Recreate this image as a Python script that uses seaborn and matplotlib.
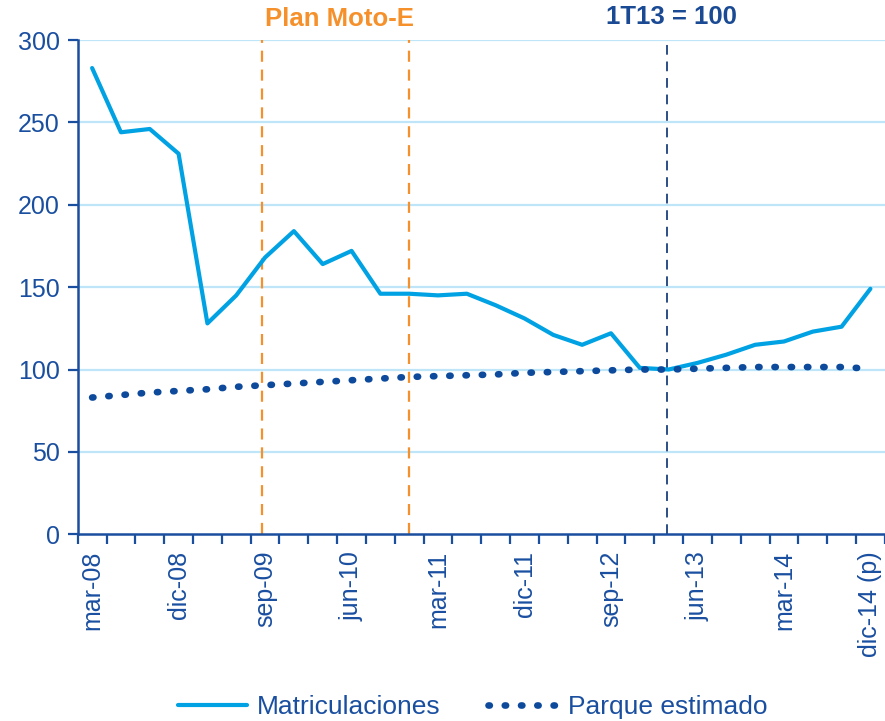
import numpy as np
import pandas as pd
import matplotlib
matplotlib.use("Agg")
import matplotlib.pyplot as plt
import seaborn as sns

# Quarterly series, mar-08 .. dic-14 (p)
quarters = ["mar-08", "jun-08", "sep-08", "dic-08",
            "mar-09", "jun-09", "sep-09", "dic-09",
            "mar-10", "jun-10", "sep-10", "dic-10",
            "mar-11", "jun-11", "sep-11", "dic-11",
            "mar-12", "jun-12", "sep-12", "dic-12",
            "mar-13", "jun-13", "sep-13", "dic-13",
            "mar-14", "jun-14", "sep-14", "dic-14 (p)"]
matriculaciones = [283, 244, 246, 231, 128, 145, 168, 184,
                   164, 172, 146, 146, 145, 146, 139, 131,
                   121, 115, 122, 101, 100, 104, 109, 115,
                   117, 123, 126, 149]
parque = [83, 84.5, 86, 87, 88, 89.5, 90.5, 91.5,
          92.5, 93.5, 94.5, 95.5, 96, 96.5, 97, 98,
          98.5, 99, 99.5, 100, 100, 100.5, 101, 101.5,
          101.5, 101.5, 101.5, 100.5]
label_every = 3
plan_moto_e = (5.9, 11.0)   # start / end of the plan
base_quarter = 19.95        # 1T13 = 100

df = pd.DataFrame({"pos": np.arange(len(quarters)),
                   "Matriculaciones": matriculaciones,
                   "Parque estimado": parque})

navy = "#1A4FA0"
dark_navy = "#0D4A9C"
light_blue = "#00A2E3"
orange = "#F5902A"
grid_blue = "#BEE6F8"
dot_lw = 4.8
dot_style = (0, (0.2, 2.24))

sns.set_style("white")
plt.rcParams["font.family"] = ["Liberation Sans", "DejaVu Sans"]

fig = plt.figure(figsize=(8.85, 7.21), dpi=100)
ax = fig.add_axes([0.0878, 0.259, 0.912, 0.6855])

sns.lineplot(data=df, x="pos", y="Matriculaciones", ax=ax, color=light_blue,
             linewidth=3, label="Matriculaciones")
sns.lineplot(data=df, x="pos", y="Parque estimado", ax=ax, color=dark_navy,
             linewidth=dot_lw, label="Parque estimado")
# seaborn drops the custom dash pattern, so set the round dots afterwards
dots = ax.lines[-1]
dots.set_linewidth(dot_lw)
dots.set_linestyle(dot_style)
dots.set_dash_capstyle("round")

ax.set_xlim(-0.5, len(quarters) - 0.5)
ax.set_ylim(0, 300)
ax.set_yticks(range(0, 301, 50))
for y in range(50, 301, 50):
    ax.axhline(y, color=grid_blue, linewidth=1.6, zorder=0)

# vertical markers
for xv in plan_moto_e:
    ax.axvline(xv, color=orange, linewidth=1.6, linestyle=(0, (5, 3.5)), zorder=1)
ax.axvline(base_quarter, color="#2C4E85", linewidth=1.4, linestyle=(0, (5, 3.5)), zorder=1)

ax.text(np.mean(plan_moto_e) + 0.12, 1.042, "Plan Moto-E", transform=ax.get_xaxis_transform(),
        ha="center", va="center", color=orange, fontsize=18.5, fontweight="bold")
ax.text(base_quarter + 0.15, 1.046, "1T13 = 100", transform=ax.get_xaxis_transform(),
        ha="center", va="center", color="#1A4A94", fontsize=18.5, fontweight="bold")

# ticks: labels on category centres, marks between categories
pos = np.arange(len(quarters))
ax.set_xticks(pos[::label_every])
ax.set_xticklabels(quarters[::label_every], rotation=90, color=navy, fontsize=18)
ax.set_xticks(np.arange(-0.5, len(quarters), 1), minor=True)
ax.tick_params(axis="x", which="major", length=0, pad=12)
ax.tick_params(axis="x", which="minor", length=7, width=1.6, color=navy, direction="out")
ax.tick_params(axis="y", length=7, width=1.6, color=navy, labelcolor=navy,
               labelsize=18, direction="out", pad=6)
ax.xaxis.set_ticks_position("bottom")
ax.yaxis.set_ticks_position("left")
ax.set_xlabel("")
ax.set_ylabel("")

for side in ["top", "right"]:
    ax.spines[side].set_visible(False)
for side in ["left", "bottom"]:
    ax.spines[side].set_color(navy)
    ax.spines[side].set_linewidth(1.8)

ax.legend_.remove()
handles, labels = ax.get_legend_handles_labels()
leg = fig.legend(handles, labels, loc="lower center", bbox_to_anchor=(0.534, -0.03),
                 ncol=2, frameon=False, fontsize=19, handlelength=2.6,
                 handletextpad=0.4, columnspacing=1.8)
for t in leg.get_texts():
    t.set_color(navy)
leg_dots = leg.get_lines()[1]
leg_dots.set_linewidth(dot_lw)
leg_dots.set_linestyle(dot_style)
leg_dots.set_dash_capstyle("round")

fig.savefig("out.png", dpi=100)
